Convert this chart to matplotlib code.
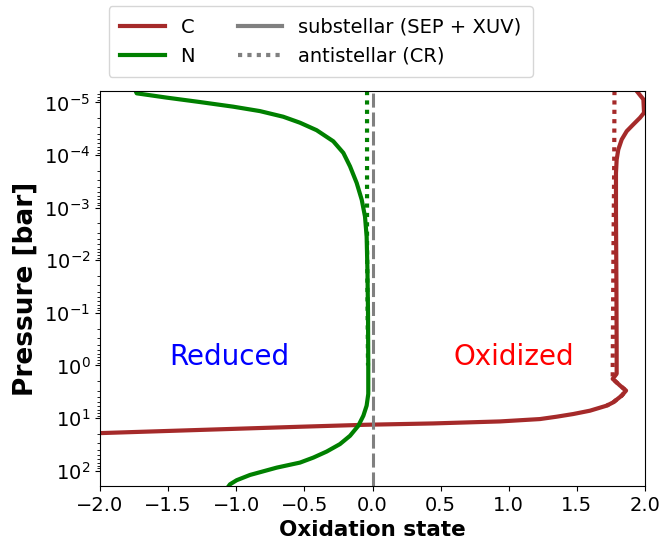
import numpy as np
import matplotlib
matplotlib.use('Agg')
import matplotlib.pyplot as plt
from matplotlib.lines import Line2D

# oxidation state vs log10(pressure / bar)
c_sub_x = [1.939, 1.988, 1.993, 1.963, 1.914, 1.866, 1.829, 1.804, 1.792, 1.787, 1.787,
           1.790, 1.792, 1.792, 1.763, 1.817, 1.861, 1.829, 1.767, 1.719, 1.596, 1.474,
           1.352, 1.229, 0.936, 0.446, -0.043, -0.532, -2.0, -4.0]
c_sub_logp = [-5.216, -5.057, -4.803, -4.707, -4.580, -4.453, -4.294, -4.103, -3.912, -3.658,
              -2.895, -1.622, -0.349, 0.158, 0.254, 0.382, 0.477, 0.573, 0.700, 0.763,
              0.859, 0.922, 0.973, 1.018, 1.063, 1.101, 1.126, 1.164, 1.285, 1.45]

c_anti_x = [1.776, 1.774, 1.768, 1.763, 1.763, 1.817, 1.861, 1.829, 1.767, 1.719]
c_anti_logp = [-5.216, -3.9, -2.0, 0.0, 0.254, 0.382, 0.477, 0.573, 0.700, 0.763]

n_sub_x = [-1.738, -1.731, -1.510, -1.266, -1.022, -0.826, -0.655, -0.532, -0.410, -0.288,
           -0.214, -0.165, -0.116, -0.079, -0.055, -0.043, -0.037, -0.033, -0.031, -0.031,
           -0.031, -0.043, -0.067, -0.104, -0.165, -0.239, -0.336, -0.434, -0.532, -0.703,
           -0.899, -0.997, -1.046, -1.055]
n_sub_logp = [-5.216, -5.172, -5.090, -5.006, -4.918, -4.834, -4.727, -4.613, -4.471, -4.261,
              -4.040, -3.784, -3.468, -3.149, -2.830, -2.448, -1.8, -1.0, 0.0, 0.286,
              0.540, 0.763, 0.954, 1.145, 1.336, 1.494, 1.635, 1.750, 1.845, 1.941,
              2.080, 2.180, 2.258, 2.29]

n_anti_x = [-0.040, -0.040, -0.036, -0.033]
n_anti_logp = [-5.216, -2.4, -1.0, 0.0]

c_color = 'brown'
n_color = 'green'
dotted = (0, (1, 1.25))

fig = plt.figure(figsize=(6.61, 5.41), dpi=100)
ax = fig.add_axes([100 / 661, 1 - 486 / 541, 545 / 661, 395 / 541])

ax.plot(c_sub_x, 10 ** np.array(c_sub_logp), color=c_color, lw=3)
ax.plot(c_anti_x, 10 ** np.array(c_anti_logp), color=c_color, lw=3, ls=dotted)
ax.plot(n_sub_x, 10 ** np.array(n_sub_logp), color=n_color, lw=3)
ax.plot(n_anti_x, 10 ** np.array(n_anti_logp), color=n_color, lw=3, ls=dotted)
ax.axvline(0, color='gray', lw=2.2, ls=(0, (4.6, 1.6)))

ax.set_yscale('log')
ax.set_ylim(10 ** 2.29, 10 ** -5.216)
ax.set_xlim(-2, 2)
ax.set_yticks([1e-5, 1e-4, 1e-3, 1e-2, 1e-1, 1, 10, 100])
ax.tick_params(labelsize=14)

ax.set_xlabel('Oxidation state', fontsize=15.5, fontweight='bold')
ax.set_ylabel('Pressure [bar]', fontsize=19, fontweight='bold')

ax.text(-1.05, 0.7, 'Reduced', color='blue', fontsize=20, ha='center', va='center')
ax.text(1.04, 0.7, 'Oxidized', color='red', fontsize=20, ha='center', va='center')

handles = [Line2D([], [], color=c_color, lw=3),
           Line2D([], [], color=n_color, lw=3),
           Line2D([], [], color='gray', lw=3),
           Line2D([], [], color='gray', lw=3, ls=dotted)]
labels = ['C', 'N', 'substellar (SEP + XUV)', 'antistellar (CR)']
ax.legend(handles, labels, ncol=2, fontsize=14, loc='lower center',
          bbox_to_anchor=(0.405, 1.035), borderaxespad=0, handlelength=2.3,
          columnspacing=2.2, borderpad=0.6)

fig.savefig('out.png', dpi=100)
